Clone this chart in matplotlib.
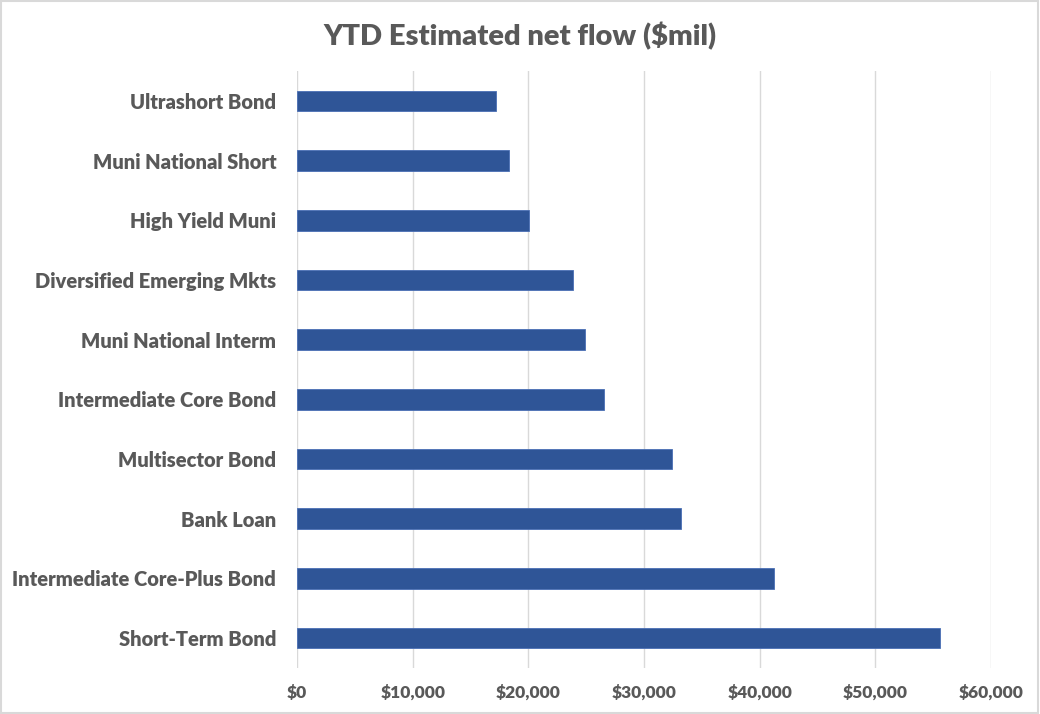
import matplotlib.pyplot as plt
from matplotlib.patches import Rectangle
from matplotlib.ticker import FuncFormatter

categories = ["Ultrashort Bond", "Muni National Short", "High Yield Muni",
              "Diversified Emerging Mkts", "Muni National Interm",
              "Intermediate Core Bond", "Multisector Bond", "Bank Loan",
              "Intermediate Core-Plus Bond", "Short-Term Bond"]
net_flow = [17200, 18350, 20080, 23880, 24920, 26530, 32380, 33220, 41230, 55570]
x_ticks = [0, 10000, 20000, 30000, 40000, 50000, 60000]

plt.rcParams['font.family'] = ['Lato', 'DejaVu Sans']
grey = '#595959'

fig = plt.figure(figsize=(10.4, 7.14), dpi=100)
ax = fig.add_axes([0.2856, 0.0644, 0.6673, 0.8362])

ypos = list(range(len(categories)))
ax.barh(ypos, net_flow, height=0.345, color='#2F5597', edgecolor='#4A6FB5', linewidth=0.6, zorder=3)
ax.set_ylim(len(categories) - 0.5, -0.5)
ax.set_xlim(0, 60000)
ax.set_yticks(ypos)
ax.set_yticklabels(categories)
ax.set_xticks(x_ticks)
ax.xaxis.set_major_formatter(FuncFormatter(lambda v, p: f"${v:,.0f}"))

ax.grid(axis='x', color='#D9D9D9', linewidth=1, zorder=0)
for s in ax.spines.values():
    s.set_visible(False)
ax.tick_params(axis='both', length=0, colors=grey)
ax.tick_params(axis='y', pad=15, labelsize=14.5)
ax.tick_params(axis='x', pad=12, labelsize=12.5)
for lab in ax.get_xticklabels() + ax.get_yticklabels():
    lab.set_fontweight('heavy')

fig.text(0.5, 0.95, "YTD Estimated net flow ($mil)", ha='center', va='center',
         fontsize=21, fontweight='heavy', color=grey)

fig.patches.append(Rectangle((0.001, 0.001), 0.997, 0.997, transform=fig.transFigure,
                             fill=False, edgecolor='#D9D9D9', linewidth=1.5))

fig.savefig('out.png', dpi=100)
